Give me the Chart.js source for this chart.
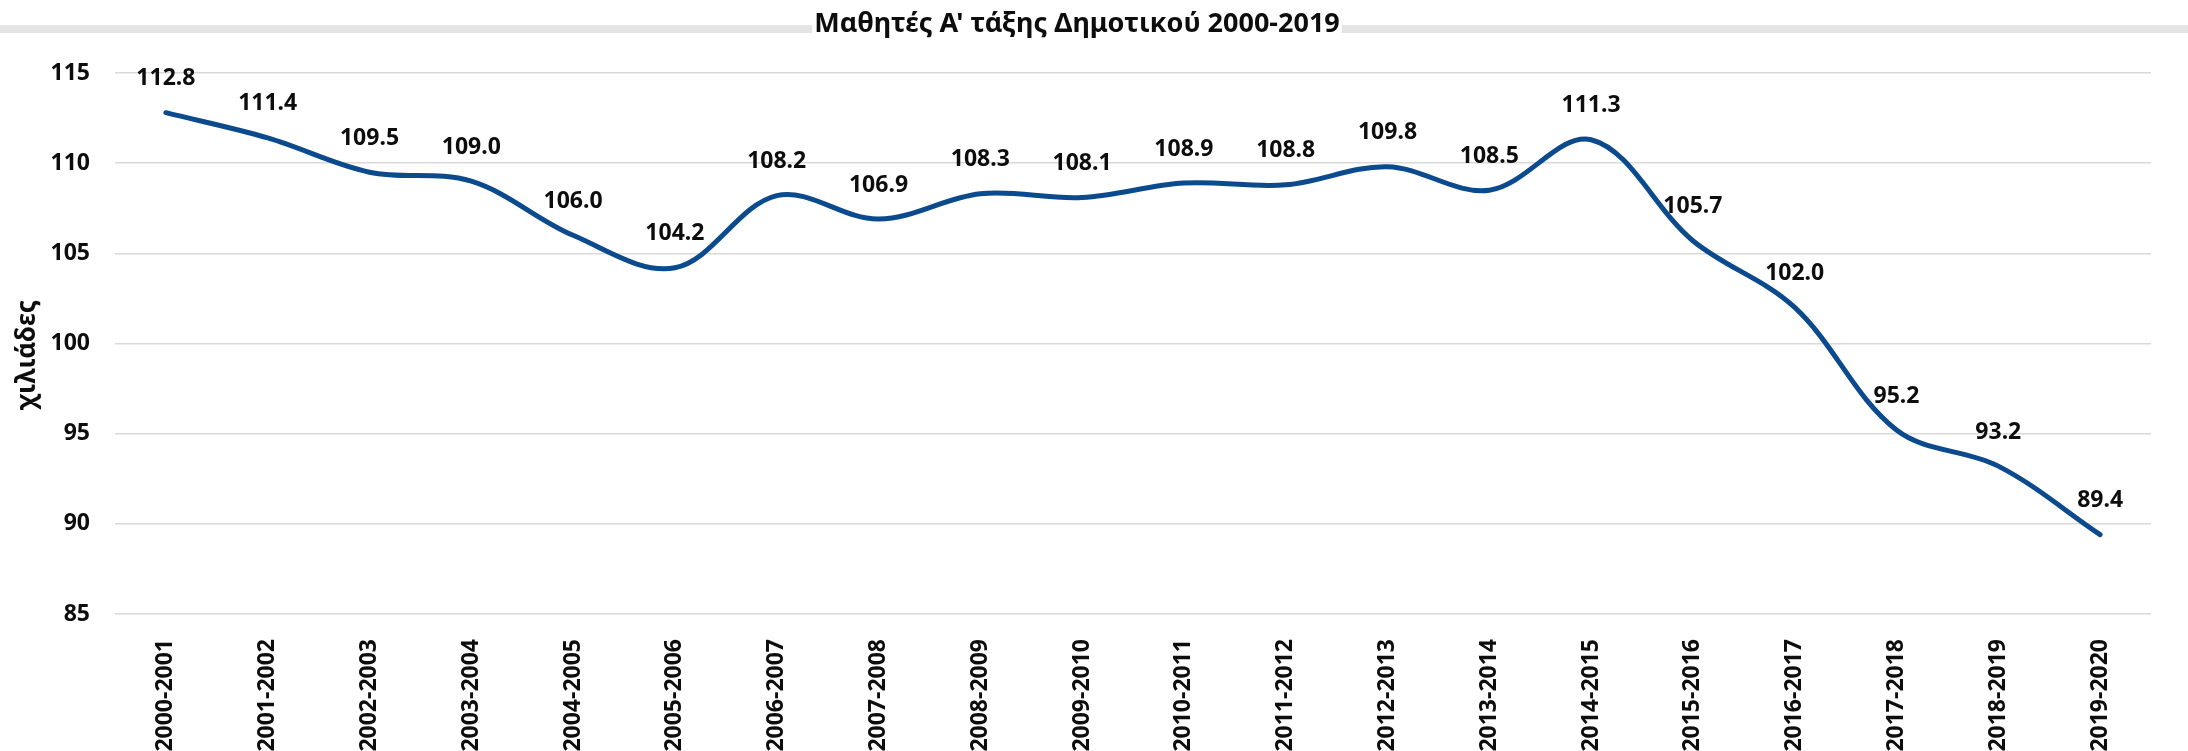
<!DOCTYPE html>
<html>
<head>
<meta charset="utf-8">
<script src="https://cdn.jsdelivr.net/npm/chart.js@4/dist/chart.umd.min.js"></script>
<style>
    html, body { margin: 0; padding: 0; background: #fff; }
    #wrap { width: 2188px; height: 751px; position: relative; }
</style>
</head>
<body>
<div id="wrap"><canvas id="myChart"></canvas></div>
<script>
// dati
const anni = ["2000-2001", "2001-2002", "2002-2003", "2003-2004", "2004-2005", "2005-2006", "2006-2007",
    "2007-2008", "2008-2009", "2009-2010", "2010-2011", "2011-2012", "2012-2013", "2013-2014",
    "2014-2015", "2015-2016", "2016-2017", "2017-2018", "2018-2019", "2019-2020"]
const mathites = [112.8, 111.4, 109.5, 109.0, 106.0, 104.2, 108.2, 106.9, 108.3, 108.1,
    108.9, 108.8, 109.8, 108.5, 111.3, 105.7, 102.0, 95.2, 93.2, 89.4]
const titolo = "Μαθητές Α' τάξης Δημοτικού 2000-2019"
const titoloAsse = "χιλιάδες"

const font = "'Noto Sans', 'DejaVu Sans', sans-serif"
const nero = "#0d0d0d"

// fascia grigia in alto con il titolo sopra (sfondo bianco), titolo dell'asse y
const intestazione = {
    id: "intestazione",
    beforeDraw(chart) {
        const ctx = chart.ctx
        ctx.save()
        ctx.fillStyle = "#e4e4e4"
        ctx.fillRect(0, 25, chart.width, 8)
        ctx.font = "bold 27px " + font
        const w = ctx.measureText(titolo).width
        ctx.fillStyle = "#fff"
        ctx.fillRect(1077 - w / 2 - 2, 20, w + 4, 16)
        ctx.fillStyle = nero
        ctx.textAlign = "center"
        ctx.textBaseline = "alphabetic"
        ctx.fillText(titolo, 1077, 32)

        // titolo asse verticale
        ctx.translate(28, 355)
        ctx.rotate(-Math.PI / 2)
        ctx.font = "bold 26px " + font
        ctx.textBaseline = "middle"
        ctx.fillText(titoloAsse, 0, 0)
        ctx.restore()
    }
}

// etichette sopra i punti
const etichette = {
    id: "etichette",
    afterDatasetsDraw(chart) {
        const ctx = chart.ctx
        ctx.save()
        ctx.font = "bold 23px " + font
        ctx.fillStyle = nero
        ctx.textAlign = "center"
        ctx.textBaseline = "middle"
        chart.getDatasetMeta(0).data.forEach((p, i) => {
            ctx.fillText(mathites[i].toFixed(1), p.x, p.y - 34)
        })
        ctx.restore()
    }
}

const ctx = document.getElementById('myChart').getContext('2d');
const myChart = new Chart(ctx, {
    type: 'line',
    data: {
        labels: anni,
        datasets: [
            {
                label: titolo,
                data: mathites,
                borderColor: "#0b4a8c",
                borderWidth: 5,
                borderCapStyle: "round",
                pointRadius: 0,
                tension: 0.35,
                fill: false
            }
        ]
    },
    options: {
        responsive: true,
        maintainAspectRatio: false,
        animation: false,
        layout: { padding: { top: 73, right: 37, left: 0, bottom: 0 } },
        plugins: {
            legend: { display: false },
            title: { display: false },
            tooltip: { enabled: false }
        },
        scales: {
            x: {
                offset: true,
                grid: { display: false },
                border: { display: false },
                ticks: {
                    autoSkip: false,
                    minRotation: 90,
                    maxRotation: 90,
                    padding: 17,
                    color: nero,
                    font: { family: font, size: 23, weight: "bold" }
                },
                afterFit(scale) { scale.height = 137 }
            },
            y: {
                min: 85,
                max: 115,
                ticks: {
                    stepSize: 5,
                    padding: 25,
                    color: nero,
                    font: { family: font, size: 23, weight: "bold" }
                },
                grid: { color: "#d9d9d9", lineWidth: 1.5, drawTicks: false },
                border: { display: false },
                afterFit(scale) { scale.width = 115 }
            }
        }
    },
    plugins: [intestazione, etichette]
});
</script>
</body>
</html>
